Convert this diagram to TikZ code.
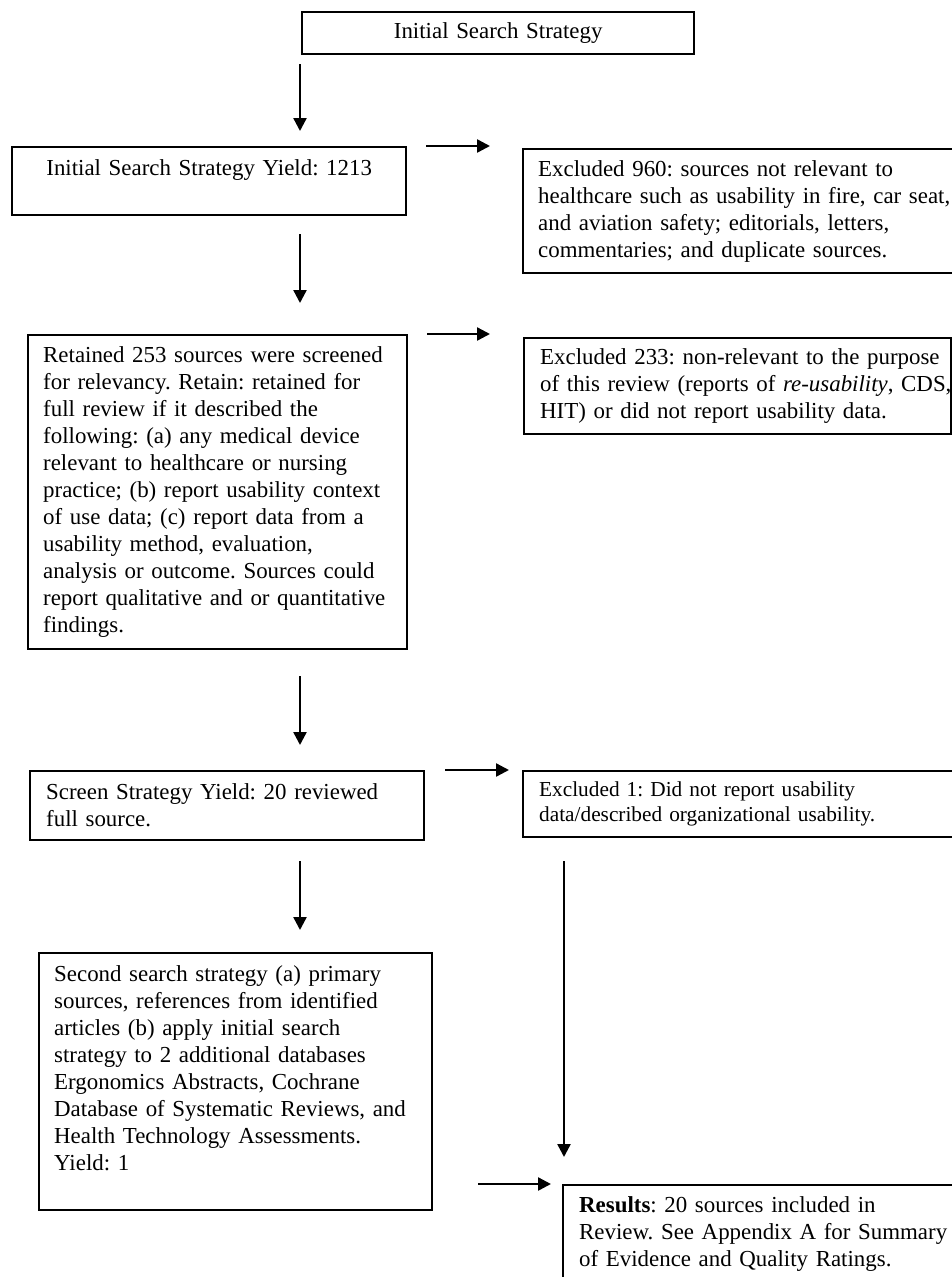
\documentclass[tikz,border=0pt]{standalone}
\usepackage{fontspec}
\setmainfont{Liberation Serif}
\usetikzlibrary{arrows.meta}
\newcommand{\bodysize}{\fontsize{22.9}{27}\selectfont\frenchspacing}
\newcommand{\notesize}{\fontsize{21.3}{25}\selectfont\frenchspacing}
\tikzset{stage/.style={draw, line width=2.4pt, anchor=north west, inner sep=0pt, align=left, font=\bodysize},
         indent/.style={execute at begin node={\leftskip=#1\rightskip=-30pt plus 1fil}},
         flow/.style={-{Triangle[length=13pt,width=13pt]}, line width=2.4pt},
         }

\begin{document}
\begin{tikzpicture}[x=1pt, y=-1pt]
\useasboundingbox (0,0) rectangle (952,1277);
% main column
\node[stage, align=center, text width=392pt, minimum height=42pt] (init) at (301,11) {Initial Search Strategy};
\node[stage, align=center, text width=394pt, minimum height=68pt] (yield) at (11,146) {Initial Search Strategy Yield: 1213\\ \mbox{}};
\node[stage, indent=15pt, text width=379pt, minimum height=314pt] (retain) at (27,334) {Retained 253 sources were screened\\
for relevancy. Retain: retained for\\
full review if it described the\\
following: (a) any medical device\\
relevant to healthcare or nursing\\
practice; (b) report usability context\\
of use data; (c) report data from a\\
usability method, evaluation,\\
analysis or outcome. Sources could\\
report qualitative and or quantitative\\
findings.};
\node[stage, indent=16pt, text width=394pt, minimum height=69pt] (screen) at (29,770) {Screen Strategy Yield: 20 reviewed\\
full source.};
\node[stage, indent=15pt, text width=393pt, minimum height=257pt] (second) at (38,952) {Second search strategy (a) primary\\
sources, references from identified\\
articles (b) apply initial search\\
strategy to 2 additional databases\\
Ergonomics Abstracts, Cochrane\\
Database of Systematic Reviews, and\\
Health Technology Assessments.\\
Yield: 1\\ \mbox{}};
% excluded column
\node[stage, indent=15pt, text width=434pt, minimum height=124pt] (ex960) at (522,148) {Excluded 960: sources not relevant to\\
healthcare such as usability in fire, car seat,\\
and aviation safety; editorials, letters,\\
commentaries; and duplicate sources.};
\node[stage, indent=16pt, text width=427pt, minimum height=96pt] (ex233) at (523,337) {Excluded 233: non-relevant to the purpose\\
of this review (reports of \textit{re-usability}, CDS,\\
HIT) or did not report usability data.};
\node[stage, indent=16pt, font=\notesize, text width=434pt, minimum height=66pt] (ex1) at (522,770) {Excluded 1: Did not report usability\\
data/described organizational usability.};
\node[stage, indent=16pt, text width=400pt, minimum height=97pt] (results) at (562,1184) {\textbf{Results}: 20 sources included in\\
Review. See Appendix A for Summary\\
of Evidence and Quality Ratings.};
% connectors
\coordinate (spine) at (300,0);
\coordinate (drop) at ([xshift=42pt]ex1.south west);
\draw[flow, shorten <=9pt, shorten >=15pt] (spine |- init.south) -- (spine |- yield.north);
\draw[flow, shorten <=18pt, shorten >=31pt] (spine |- yield.south) -- (spine |- retain.north);
\draw[flow, shorten <=26pt, shorten >=25pt] (spine |- retain.south) -- (spine |- screen.north);
\draw[flow, shorten <=20pt, shorten >=22pt] (spine |- screen.south) -- (spine |- second.north);
\draw[flow, shorten <=19pt, shorten >=32pt] (yield.north east) -- (yield.north east -| ex960.west);
\draw[flow, shorten <=19pt, shorten >=33pt, yshift=2pt] (retain.north east) -- (retain.north east -| ex233.west);
\draw[flow, shorten <=20pt, shorten >=13pt, yshift=3pt] (screen.north east) -- (screen.north east -| ex1.west);
\draw[flow, shorten <=45pt, shorten >=11pt, yshift=2pt] (second.east |- results.north) -- (results.north west);
\draw[flow, shorten <=23pt, shorten >=27pt] (drop) -- (drop |- results.north);
\end{tikzpicture}
\end{document}
